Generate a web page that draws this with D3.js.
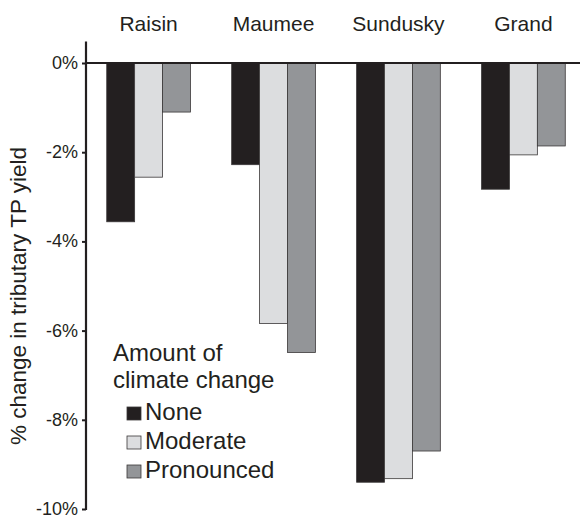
<!DOCTYPE html>
<html>
<head>
<meta charset="utf-8">
<script src="https://cdn.jsdelivr.net/npm/d3@7"></script>
<style>
  body { margin: 0; background: #fff; }
  svg text { font-family: "Liberation Sans", Arial, sans-serif; fill: #231f20; }
</style>
</head>
<body>
<script>
'use strict';

// Data
const rivers = ['Raisin', 'Maumee', 'Sundusky', 'Grand'];
const scenarios = ['None', 'Moderate', 'Pronounced'];
const noneVals = [-3.56, -2.28, -9.40, -2.83];
const moderateVals = [-2.56, -5.84, -9.32, -2.06];
const pronouncedVals = [-1.10, -6.49, -8.70, -1.86];
const yTicks = [0, -2, -4, -6, -8, -10];
const legendTitle = ['Amount of', 'climate change'];

const colours = { None: '#231f20', Moderate: '#dcdddf', Pronounced: '#939598' };

const width = 580;
const height = 515;
const margin = { top: 63, left: 86 };

const rows = rivers.map((r, i) => ({
  river: r,
  values: [
    { key: 'None', value: noneVals[i] },
    { key: 'Moderate', value: moderateVals[i] },
    { key: 'Pronounced', value: pronouncedVals[i] }
  ]
}));

const svg = d3.select('body').append('svg')
  .attr('width', width)
  .attr('height', height);

// Scales
const x0 = d3.scaleBand()
  .domain(rivers)
  .range([margin.left, 586])
  .paddingInner(0.33)
  .paddingOuter(0.166);

const x1 = d3.scaleBand()
  .domain(scenarios)
  .range([0, x0.bandwidth()]);

const y = d3.scaleLinear()
  .domain([0, -10])
  .range([margin.top, 509]);

// Bars
const groups = svg.append('g').selectAll('g')
  .data(rows)
  .enter().append('g')
  .attr('transform', d => `translate(${x0(d.river)},0)`);

groups.selectAll('rect')
  .data(d => d.values)
  .enter().append('rect')
  .attr('x', d => x1(d.key))
  .attr('y', y(0))
  .attr('width', x1.bandwidth())
  .attr('height', d => y(d.value) - y(0))
  .attr('fill', d => colours[d.key])
  .attr('stroke', '#3a3738')
  .attr('stroke-width', 0.8);

// Category labels
svg.append('g').selectAll('text')
  .data(rivers)
  .enter().append('text')
  .attr('x', d => x0(d) + x0.bandwidth() / 2)
  .attr('y', 31)
  .attr('text-anchor', 'middle')
  .style('font-size', '21px')
  .text(d => d);

// Y axis
const yAxis = d3.axisLeft(y)
  .tickValues(yTicks)
  .tickSize(4)
  .tickSizeOuter(0)
  .tickFormat(d => d + '%');

const axisG = svg.append('g')
  .attr('transform', `translate(${margin.left},0)`)
  .call(yAxis);

axisG.select('.domain').remove();
axisG.selectAll('.tick line').attr('stroke', '#231f20').attr('stroke-width', 2);
axisG.selectAll('.tick text')
  .attr('x', -8)
  .attr('dy', '0.3em')
  .style('font-size', '18px')
  .style('font-family', '"Liberation Sans", Arial, sans-serif')
  .attr('fill', '#231f20');

svg.append('line')
  .attr('x1', margin.left).attr('x2', margin.left)
  .attr('y1', 41.5).attr('y2', y(-10) + 1)
  .attr('stroke', '#231f20')
  .attr('stroke-width', 2.2);

// Zero line
svg.append('line')
  .attr('x1', margin.left).attr('x2', width)
  .attr('y1', y(0)).attr('y2', y(0))
  .attr('stroke', '#231f20')
  .attr('stroke-width', 2);

// Axis title
svg.append('text')
  .attr('transform', 'translate(26,296) rotate(-90)')
  .attr('text-anchor', 'middle')
  .style('font-size', '22.5px')
  .text('% change in tributary TP yield');

// Legend
const legend = svg.append('g');

legend.selectAll('text.title')
  .data(legendTitle)
  .enter().append('text')
  .attr('class', 'title')
  .attr('x', 113)
  .attr('y', (d, i) => 361 + i * 27)
  .style('font-size', '24px')
  .text(d => d);

const items = legend.selectAll('g.item')
  .data(scenarios)
  .enter().append('g')
  .attr('class', 'item')
  .attr('transform', (d, i) => `translate(127,${420 + i * 29})`);

items.append('rect')
  .attr('x', 0)
  .attr('y', -13)
  .attr('width', 14)
  .attr('height', 13)
  .attr('fill', d => colours[d])
  .attr('stroke', '#3a3738')
  .attr('stroke-width', 0.8);

items.append('text')
  .attr('x', 18)
  .attr('y', 0)
  .style('font-size', '24px')
  .text(d => d);
</script>
</body>
</html>
